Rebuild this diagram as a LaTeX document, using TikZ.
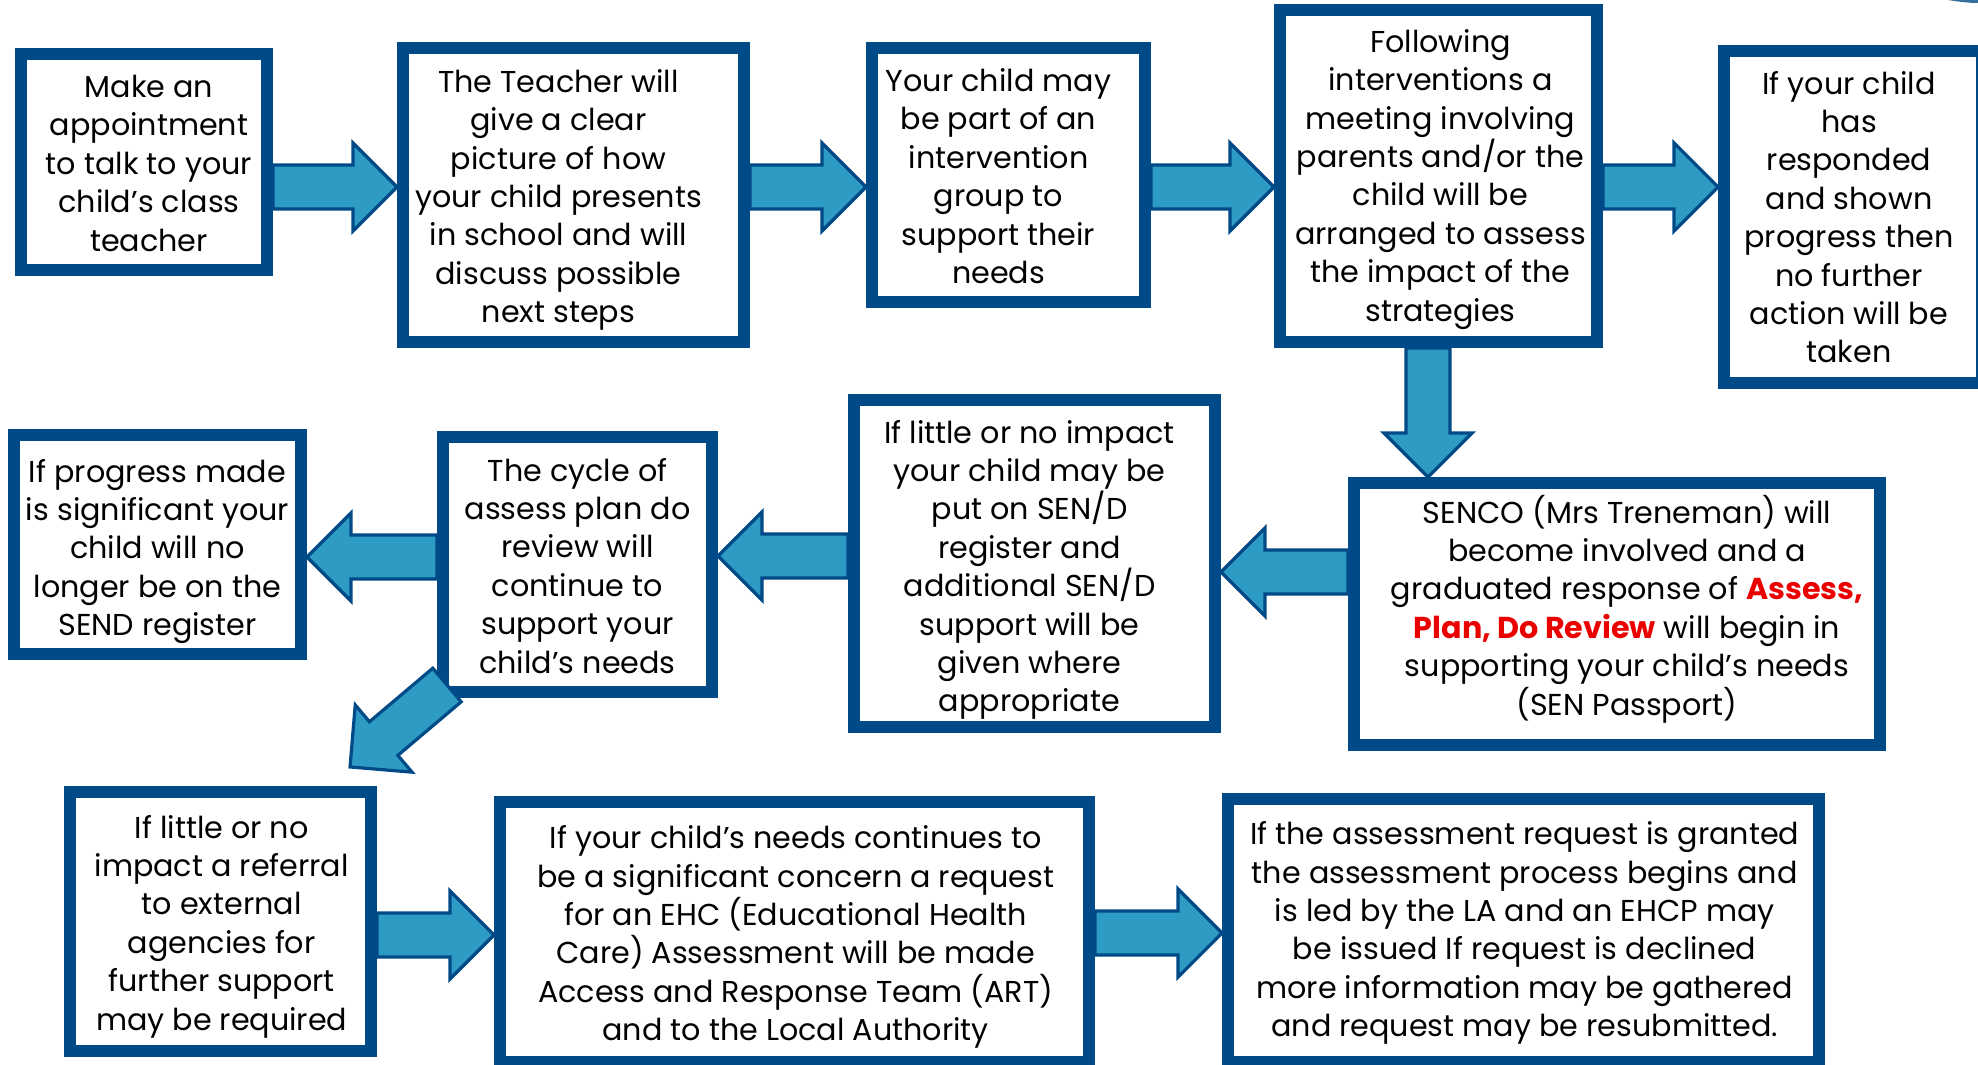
\documentclass[tikz,border=0pt]{standalone}
\usepackage{fontspec}
\setmainfont{Poppins}
\usetikzlibrary{calc}
\definecolor{boxblue}{RGB}{0,75,135}
\definecolor{arrowfill}{RGB}{46,155,196}
\definecolor{hired}{RGB}{235,0,0}
\def\sw{11pt}\def\hw{22pt}\def\hl{22pt}
\newcommand\blockarrow[2]{%
  \path let \p1=(#1), \p2=(#2) in
    \pgfextra{\pgfmathparse{atan2(\y2-\y1,\x2-\x1)}\xdef\arang{\pgfmathresult}%
              \pgfmathparse{veclen(\x2-\x1,\y2-\y1)}\xdef\arlen{\pgfmathresult}};
  \begin{scope}[shift={(#1)}, rotate=\arang]
    \draw[arrowsty] (0pt,-\sw) -- ({\arlen pt-\hl},-\sw) -- ({\arlen pt-\hl},-\hw)
      -- (\arlen pt,0pt) -- ({\arlen pt-\hl},\hw) -- ({\arlen pt-\hl},\sw) -- (0pt,\sw) -- cycle;
  \end{scope}}
% box: L T R B name xshift yshift text
\newcommand\bx[8]{%
  \node[box, minimum width={(#3-#1-12)*0.5pt}, minimum height={(#4-#2-12)*0.5pt}]
    (#5) at ({(#1+#3)/2},{(#2+#4)/2}) {};
  \node[boxtext] (#5t) at ([xshift=#6pt,yshift=#7pt]#5.center) {#8};}
\tikzset{
  box/.style={draw=boxblue, fill=white, line width=6pt, inner sep=0pt},
  boxtext/.style={inner sep=0pt, align=center,
    font=\fontsize{15.1}{19.2}\selectfont, text=black},
  arrowsty/.style={draw=boxblue, fill=arrowfill, line width=1.6pt, line join=miter}
}
\begin{document}
\begin{tikzpicture}[x=0.5pt,y=-0.5pt]
\useasboundingbox (0,0) rectangle (1978,1065);
\fill[white] (0,0) rectangle (1978,1065);
% faint fragment top right
\fill[boxblue!80] (1948,0) .. controls (1960,2) and (1970,3) .. (1978,3) -- (1978,0) -- cycle;
% row 1
\bx{15}{48}{273}{276}{b1}{2.5}{-0.6}{Make an\\appointment\\to talk to your\\child’s class\\teacher}
\bx{397}{42}{750}{348}{b2}{-7.5}{-2.5}{The Teacher will\\give a clear\\picture of how\\your child presents\\in school and will\\discuss possible\\next steps}
\bx{866}{42}{1151}{308}{b3}{-5}{-0.6}{Your child may\\be part of an\\intervention\\group to\\support their\\needs}
\bx{1274}{4}{1603}{348}{b4}{1}{-1.6}{Following\\interventions a\\meeting involving\\parents and/or the\\child will be\\arranged to assess\\the impact of the\\strategies}
\bx{1718}{45}{1988}{389}{b5}{-2}{0}{If your child\\has\\responded\\and shown\\progress then\\no further\\action will be\\taken}
% row 2
\bx{1348}{477}{1886}{751}{b6}{5}{2.5}{SENCO (Mrs Treneman) will\\become involved and a\\graduated response of {\color{hired}\bfseries Assess,}\\{\color{hired}\bfseries Plan, Do Review} will begin in\\supporting your child’s needs\\(SEN Passport)}
\bx{848}{394}{1221}{733}{b7}{-2.5}{-3.2}{If little or no impact\\your child may be\\put on SEN/D\\register and\\additional SEN/D\\support will be\\given where\\appropriate}
\bx{437}{431}{718}{698}{b8}{0}{-0.6}{The cycle of\\assess plan do\\review will\\continue to\\support your\\child’s needs}
\bx{8}{429}{307}{660}{b9}{0}{-3.5}{If progress made\\is significant your\\child will no\\longer be on the\\SEND register}
% row 3
\bx{64}{786}{377}{1057}{b10}{0.6}{-2.5}{If little or no\\impact a referral\\to external\\agencies for\\further support\\may be required}
\bx{494}{796}{1095}{1068}{b11}{0.6}{-2.5}{If your child’s needs continues to\\be a significant concern a request\\for an EHC (Educational Health\\Care) Assessment will be made\\Access and Response Team (ART)\\and to the Local Authority}
\bx{1222}{793}{1825}{1068}{b12}{0.6}{-1.3}{If the assessment request is granted\\the assessment process begins and\\is led by the LA and an EHCP may\\be issued If request is declined\\more information may be gathered\\and request may be resubmitted.}
% connector end points
\coordinate (a1s) at (b1.east |- 0,187);  \coordinate (a1e) at (b2.west |- 0,187);
\coordinate (a2s) at (b2.east |- 0,187);  \coordinate (a2e) at (b3.west |- 0,187);
\coordinate (a3s) at (b3.east |- 0,187);  \coordinate (a3e) at (b4.west |- 0,187);
\coordinate (a4s) at (b4.east |- 0,187);  \coordinate (a4e) at (b5.west |- 0,187);
\coordinate (a5s) at (b4.south -| 1428,0); \coordinate (a5e) at (b6.north -| 1428,0);
\coordinate (a6s) at (b6.west |- 0,572);  \coordinate (a6e) at (b7.east |- 0,572);
\coordinate (a7s) at (b7.west |- 0,556);  \coordinate (a7e) at (b8.east |- 0,556);
\coordinate (a8s) at (b8.west |- 0,557);  \coordinate (a8e) at (b9.east |- 0,557);
\coordinate (a9s) at ($(b8.south west)+(10,-13)$); \coordinate (a9e) at (350,767);
\coordinate (a10s) at (b10.east |- 0,935); \coordinate (a10e) at (b11.west |- 0,935);
\coordinate (a11s) at (b11.east |- 0,933); \coordinate (a11e) at (b12.west |- 0,933);
\blockarrow{a1s}{a1e}
\blockarrow{a2s}{a2e}
\blockarrow{a3s}{a3e}
\blockarrow{a4s}{a4e}
\blockarrow{a5s}{a5e}
\blockarrow{a6s}{a6e}
\blockarrow{a7s}{a7e}
\blockarrow{a8s}{a8e}
\blockarrow{a9s}{a9e}
\blockarrow{a10s}{a10e}
\blockarrow{a11s}{a11e}
\end{tikzpicture}
\end{document}
